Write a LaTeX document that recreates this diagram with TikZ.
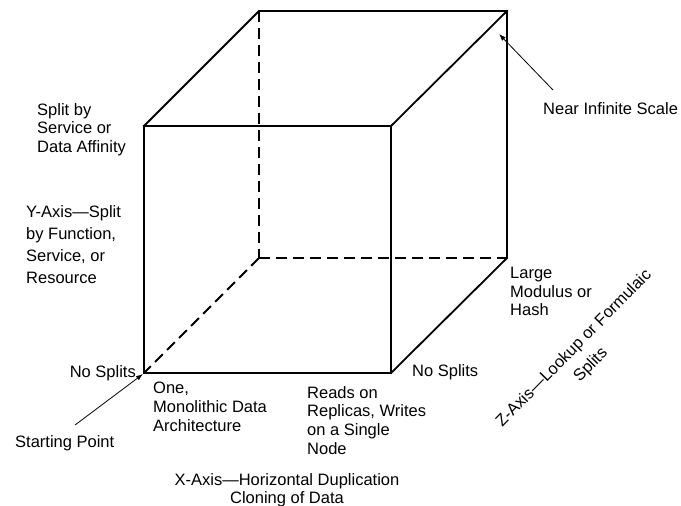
\documentclass[tikz,border=0pt]{standalone}
\usepackage{fontspec}
\setmainfont{Liberation Sans}
\usetikzlibrary{arrows.meta}
\begin{document}
\begin{tikzpicture}[x=1pt,y=-1pt,
  edge/.style={line width=1.8pt, line join=miter, line cap=rect},
  hidden/.style={line width=1.8pt, dash pattern=on 11pt off 6pt},
  lbl/.style={font=\fontsize{16.5}{18.7}\selectfont, inner sep=0pt, align=left},
  pointer/.style={line width=0.8pt, -{Latex[length=7pt,width=5pt]}}]
\useasboundingbox (0,0) rectangle (681,506);

% cube corners: front face and back face
\coordinate (f1) at (144,126);
\coordinate (f2) at (391,126);
\coordinate (f3) at (391,373);
\coordinate (f4) at (144,373);
\coordinate (b1) at (259,11);
\coordinate (b2) at (507,11);
\coordinate (b3) at (507,258);
\coordinate (b4) at (259,258);

% visible edges
\draw[edge] (f1) -- (f2) -- (f3) -- (f4) -- cycle;
\draw[edge] (f1) -- (b1) -- (b2) -- (b3) -- (f3);
\draw[edge] (f2) -- (b2);
% hidden edges
\draw[hidden] (b1) -- (b4);
\draw[hidden] (b4) -- (b3);
\draw[hidden] (b4) -- (f4);

% labels
\node[lbl, anchor=north west] (splitby) at (37,103) {Split by\\Service or\\Data Affinity};
\node[lbl, font=\fontsize{16.5}{22}\selectfont, anchor=north west] (yaxis) at (26,205) {Y-Axis—Split\\by Function,\\Service, or\\Resource};
\node[lbl, anchor=north east] (nosplitL) at (136,365) {No Splits};
\node[lbl, anchor=north west] (nosplitR) at (412,364) {No Splits};
\node[lbl, anchor=north west] (mono) at (153,382) {One,\\Monolithic Data\\Architecture};
\node[lbl, anchor=north west] (reads) at (307,386) {Reads on\\Replicas, Writes\\on a Single\\Node};
\node[lbl, anchor=north west] (large) at (510,267) {Large\\Modulus or\\Hash};
\node[lbl, anchor=north west] (near) at (543,102) {Near Infinite Scale};
\node[lbl, anchor=north west] (start) at (15,435) {Starting Point};
\node[lbl, align=center, anchor=north] (xaxis) at (287,473) {X-Axis—Horizontal Duplication\\Cloning of Data};
\node[lbl, font=\fontsize{16.5}{23.7}\selectfont, align=center, rotate=45.5] (zaxis) at (582.6,357) {Z-Axis—Lookup or Formulaic\\Splits};

% pointers
\coordinate (nearTail) at (553,90);
\coordinate (nearTip) at (499,34);
\coordinate (startTail) at (75,425);
\coordinate (startTip) at (143,374);
\draw[pointer] (nearTail) -- (nearTip);
\draw[pointer] (startTail) -- (startTip);
\end{tikzpicture}
\end{document}
